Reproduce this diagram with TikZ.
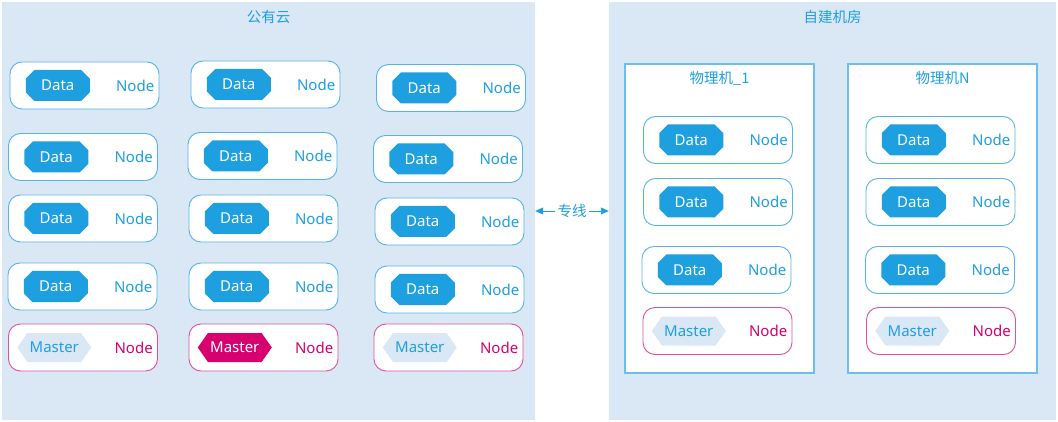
\documentclass[tikz,border=0pt]{standalone}
\usepackage{fontspec}
\setmainfont{Noto Sans}
\newfontfamily\cjkfont{Noto Sans CJK SC}
\usetikzlibrary{positioning,shapes.misc,shapes.symbols,arrows.meta}

\definecolor{panelbg}{HTML}{DAE8F6}
\definecolor{boxblue}{HTML}{55B4E8}
\definecolor{datablue}{HTML}{1EA0E0}
\definecolor{txtblue}{HTML}{1E9FE2}
\definecolor{hotpink}{HTML}{D6006E}
\definecolor{hotline}{HTML}{E2509A}
\definecolor{pmline}{HTML}{6BBFEC}

\tikzset{
  panel/.style = {draw=none, fill=panelbg, inner sep=0},
  paneltitle/.style = {inner sep=0, text=txtblue, font=\cjkfont\fontsize{14.5}{16}\selectfont},
  pmbox/.style = {draw=pmline, line width=1.2pt, fill=white, inner sep=0, minimum width=189pt, minimum height=309pt},
  nodebox/.style = {draw=boxblue, line width=0.9pt, fill=white, rounded corners=12pt, minimum width=149pt, minimum height=47pt, inner sep=0},
  masterbox/.style = {nodebox, draw=hotline},
  datatag/.style = {chamfered rectangle, chamfered rectangle xsep=5pt, fill=datablue, text=white, inner sep=0, minimum width=64pt, minimum height=31pt, font=\fontsize{15}{17}\selectfont},
  mastertag/.style = {signal, signal to=west and east, signal pointer angle=110, fill=panelbg, text=txtblue, inner sep=0, minimum width=74pt, minimum height=29pt, font=\fontsize{15}{17}\selectfont},
  masterhot/.style = {mastertag, fill=hotpink, text=white},
  nodetxt/.style = {inner sep=0, text=txtblue, font=\fontsize{15}{17}\selectfont},
  mastertxt/.style = {nodetxt, text=hotpink},
  linkarrow/.style = {draw=txtblue, line width=0.9pt, -{Triangle[length=8pt,width=7pt]}}
}

\begin{document}
\begin{tikzpicture}[x=1pt, y=-1pt]
\useasboundingbox [fill=white] (0,0) rectangle (1058,422);
% public cloud
\node [panel, minimum width=533pt, minimum height=418pt] (cloud) at (268.5,211) {};
\node [paneltitle, below=8pt of cloud.north] (cloudtitle) {公有云};
% own machine room
\node [panel, minimum width=447pt, minimum height=418pt] (room) at (832.5,211) {};
\node [paneltitle, below=8pt of room.north] (roomtitle) {自建机房};

% first column
\node [nodebox] (b11) at (84.5,85.5) {};
\node [datatag, right=16pt of b11.west] (d11) {Data};
\node [nodetxt, left=5pt of b11.east] (n11) {Node};
\node [nodebox] (b21) at (83,157) {};
\node [datatag, right=16pt of b21.west] (d21) {Data};
\node [nodetxt, left=5pt of b21.east] (n21) {Node};
\node [nodebox] (b31) at (83,218.5) {};
\node [datatag, right=16pt of b31.west] (d31) {Data};
\node [nodetxt, left=5pt of b31.east] (n31) {Node};
\node [nodebox] (b41) at (82.5,286.5) {};
\node [datatag, right=16pt of b41.west] (d41) {Data};
\node [nodetxt, left=5pt of b41.east] (n41) {Node};
\node [masterbox] (b51) at (83,347.5) {};
\node [mastertag, right=9pt of b51.west] (m51) {Master};
\node [mastertxt, left=5pt of b51.east] (n51) {Node};

% second column
\node [nodebox] (b12) at (265.5,84.5) {};
\node [datatag, right=16pt of b12.west] (d12) {Data};
\node [nodetxt, left=5pt of b12.east] (n12) {Node};
\node [nodebox] (b22) at (262.5,156) {};
\node [datatag, right=16pt of b22.west] (d22) {Data};
\node [nodetxt, left=5pt of b22.east] (n22) {Node};
\node [nodebox] (b32) at (263.5,218.5) {};
\node [datatag, right=16pt of b32.west] (d32) {Data};
\node [nodetxt, left=5pt of b32.east] (n32) {Node};
\node [nodebox] (b42) at (263.5,286.5) {};
\node [datatag, right=16pt of b42.west] (d42) {Data};
\node [nodetxt, left=5pt of b42.east] (n42) {Node};
\node [masterbox] (b52) at (263.5,347.5) {};
\node [masterhot, right=9pt of b52.west] (m52) {Master};
\node [mastertxt, left=5pt of b52.east] (n52) {Node};

% third column
\node [nodebox] (b13) at (451,88) {};
\node [datatag, right=16pt of b13.west] (d13) {Data};
\node [nodetxt, left=5pt of b13.east] (n13) {Node};
\node [nodebox] (b23) at (448,159) {};
\node [datatag, right=16pt of b23.west] (d23) {Data};
\node [nodetxt, left=5pt of b23.east] (n23) {Node};
\node [nodebox] (b33) at (449.5,221.5) {};
\node [datatag, right=16pt of b33.west] (d33) {Data};
\node [nodetxt, left=5pt of b33.east] (n33) {Node};
\node [nodebox] (b43) at (449.5,289.5) {};
\node [datatag, right=16pt of b43.west] (d43) {Data};
\node [nodetxt, left=5pt of b43.east] (n43) {Node};
\node [masterbox] (b53) at (448.5,347.5) {};
\node [mastertag, right=9pt of b53.west] (m53) {Master};
\node [mastertxt, left=5pt of b53.east] (n53) {Node};

% physical machine 1
\node [pmbox] (pm1) at (719.5,218.5) {};
\node [paneltitle, below=8pt of pm1.north] (pm1title) {物理机\_1};
\node [nodebox] (p11) at (718,140) {};
\node [datatag, right=16pt of p11.west] (pd11) {Data};
\node [nodetxt, left=5pt of p11.east] (pn11) {Node};
\node [nodebox] (p21) at (718,202) {};
\node [datatag, right=16pt of p21.west] (pd21) {Data};
\node [nodetxt, left=5pt of p21.east] (pn21) {Node};
\node [nodebox] (p31) at (716.5,270) {};
\node [datatag, right=16pt of p31.west] (pd31) {Data};
\node [nodetxt, left=5pt of p31.east] (pn31) {Node};
\node [masterbox] (p41) at (717.5,331) {};
\node [mastertag, right=9pt of p41.west] (pm41) {Master};
\node [mastertxt, left=5pt of p41.east] (pn41) {Node};

% physical machine N
\node [pmbox] (pmN) at (942.5,218.5) {};
\node [paneltitle, below=8pt of pmN.north] (pmNtitle) {物理机N};
\node [nodebox] (p1N) at (940.5,140) {};
\node [datatag, right=16pt of p1N.west] (pd1N) {Data};
\node [nodetxt, left=5pt of p1N.east] (pn1N) {Node};
\node [nodebox] (p2N) at (940.5,202) {};
\node [datatag, right=16pt of p2N.west] (pd2N) {Data};
\node [nodetxt, left=5pt of p2N.east] (pn2N) {Node};
\node [nodebox] (p3N) at (940,270) {};
\node [datatag, right=16pt of p3N.west] (pd3N) {Data};
\node [nodetxt, left=5pt of p3N.east] (pn3N) {Node};
\node [masterbox] (p4N) at (941,331) {};
\node [mastertag, right=9pt of p4N.west] (pm4N) {Master};
\node [mastertxt, left=5pt of p4N.east] (pn4N) {Node};

% leased line
\node [paneltitle, inner sep=2pt] (link) at (572,211) {专线};
\draw [linkarrow] (link.west) -- (cloud.east |- link.west);
\draw [linkarrow] (link.east) -- (room.west |- link.east);
\end{tikzpicture}
\end{document}
